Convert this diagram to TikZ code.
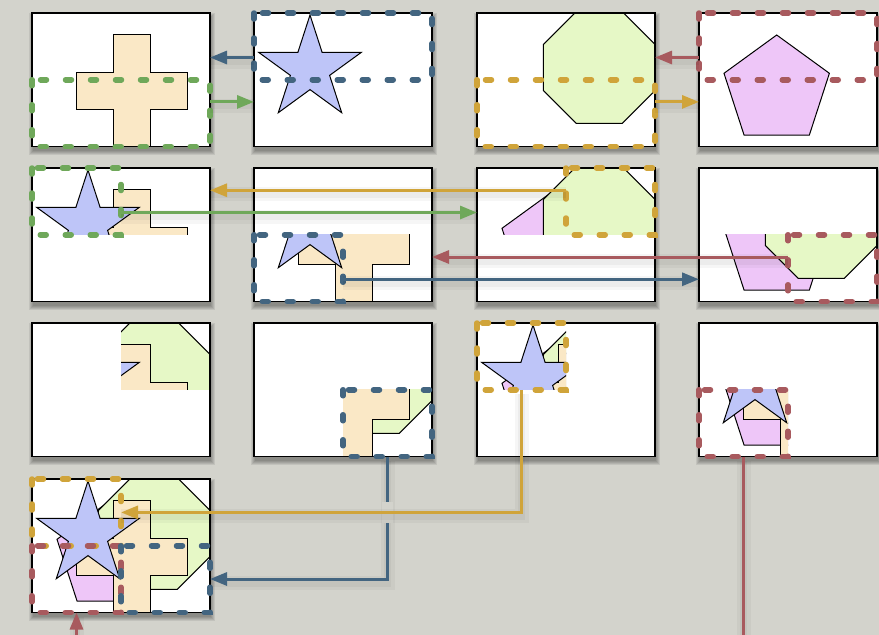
\documentclass[tikz,border=0pt]{standalone}
\usetikzlibrary{arrows.meta,calc}
\definecolor{bg}{RGB}{211,211,204}
\definecolor{crossc}{RGB}{250,232,198}
\definecolor{starc}{RGB}{190,197,248}
\definecolor{octc}{RGB}{230,248,198}
\definecolor{pentc}{RGB}{238,198,248}
\definecolor{cgreen}{RGB}{111,168,90}
\definecolor{cblue}{RGB}{67,101,128}
\definecolor{cyellow}{RGB}{208,164,58}
\definecolor{cred}{RGB}{168,90,94}
\tikzset{
  panel/.style={fill=white, minimum width=178pt, minimum height=133.5pt, inner sep=0pt, outer sep=0pt, anchor=north west},
  pborder/.style={draw=black, line width=1.3pt},
  shapeline/.style={draw=black, line width=1pt, line join=miter},
  dsh/.style={line width=5.5pt, line cap=round, dash pattern=on 6pt off 19pt},
  conn/.style={line width=3pt, -{Triangle[length=17pt,width=13pt]},
    preaction={draw=black, opacity=0.035, line width=14pt, -, transform canvas={yshift=-4pt}},
    preaction={draw=black, opacity=0.04, line width=7pt, -, transform canvas={yshift=-4pt}}},
}
\newcommand\shPent{\filldraw[fill=pentc,shapeline] (77.7,22) -- (130.4,60.3) -- (110.3,122.2) -- (45.1,122.2) -- (25,60.3) -- cycle;}
\newcommand\shOct{\filldraw[fill=octc,shapeline] (99.1,-1.3) -- (145.3,-1.3) -- (178,31.4) -- (178,77.6) -- (145.3,110.3) -- (99.1,110.3) -- (66.4,77.6) -- (66.4,31.4) -- cycle;}
\newcommand\shCross{\filldraw[fill=crossc,shapeline] (81.3,21.6) -- (118.7,21.6) -- (118.7,59) -- (155.7,59) -- (155.7,96.3) -- (118.7,96.3) -- (118.7,134) -- (81.3,134) -- (81.3,96.3) -- (44,96.3) -- (44,59) -- (81.3,59) -- cycle;}
\newcommand\shStar{\filldraw[fill=starc,shapeline] (56,2) -- (43.9,39.3) -- (4.6,39.3) -- (36.4,62.4) -- (24.3,99.7) -- (56,76.6) -- (87.7,99.7) -- (75.6,62.4) -- (107.4,39.3) -- (68.1,39.3) -- cycle;}
\newcommand\allSh{\shPent\shOct\shCross\shStar}
\begin{document}
\begin{tikzpicture}[x=1pt,y=-1pt]
\useasboundingbox (0,0) rectangle (879,635);
\clip (0,0) rectangle (879,635);
\fill[bg] (0,0) rectangle (879,635);
% panels with shadows
\foreach \n/\x/\y in {p11/32/13, p12/254/13, p13/477/13, p14/699/13,
                      p21/32/168, p22/254/168, p23/477/168, p24/699/168,
                      p31/32/323, p32/254/323, p33/477/323, p34/699/323,
                      p41/32/479}{
  \foreach \s in {0,1,2,3,4}{
    \fill[black,opacity=0.08] (\x-\s+1,\y-\s+4) rectangle (\x+178+\s+1,\y+133.5+\s+4);
  }
  \node[panel] (\n) at (\x,\y) {};
}
% contents
\begin{scope}[shift={(32,13)}]\clip (0,0) rectangle (178,133.5); \shCross \end{scope}
\begin{scope}[shift={(254,13)}]\clip (0,0) rectangle (178,133.5); \shStar \end{scope}
\begin{scope}[shift={(477,13)}]\clip (0,0) rectangle (178,133.5); \shOct \end{scope}
\begin{scope}[shift={(699,13)}]\clip (0,0) rectangle (178,133.5); \shPent \end{scope}
\begin{scope}[shift={(32,168)}]\clip (0,0) rectangle (178,66.75); \shCross\shStar \end{scope}
\begin{scope}[shift={(254,168)}]\clip (0,66.75) rectangle (178,133.5); \shCross\shStar \end{scope}
\begin{scope}[shift={(477,168)}]\clip (0,0) rectangle (178,66.75); \shPent\shOct \end{scope}
\begin{scope}[shift={(699,168)}]\clip (0,66.75) rectangle (178,133.5); \shPent\shOct \end{scope}
\begin{scope}[shift={(32,323)}]\clip (89,0) rectangle (178,66.75); \allSh \end{scope}
\begin{scope}[shift={(254,323)}]\clip (89,66.75) rectangle (178,133.5); \allSh \end{scope}
\begin{scope}[shift={(477,323)}]\clip (0,0) rectangle (89,66.75); \allSh \end{scope}
\begin{scope}[shift={(699,323)}]\clip (0,66.75) rectangle (89,133.5); \allSh \end{scope}
\begin{scope}[shift={(32,479)}]\clip (0,0) rectangle (178,133.5); \allSh \end{scope}
% borders
\foreach \n in {p11,p12,p13,p14,p21,p22,p23,p24,p31,p32,p33,p34,p41}{
  \draw[pborder] (\n.north west) rectangle (\n.south east);
}
% dashed regions
\draw[dsh,cgreen] ($(p11.north west)+(0,66.75)$) rectangle (p11.south east);
\draw[dsh,cblue] (p12.north west) rectangle ($(p12.north east)+(0,66.75)$);
\draw[dsh,cyellow] ($(p13.north west)+(0,66.75)$) rectangle (p13.south east);
\draw[dsh,cred] (p14.north west) rectangle ($(p14.north east)+(0,66.75)$);
\draw[dsh,cgreen] (p21.north west) rectangle ($(p21.north west)+(89,66.75)$);
\draw[dsh,cblue] ($(p22.north west)+(0,66.75)$) rectangle ($(p22.south west)+(89,0)$);
\draw[dsh,cyellow] ($(p23.north west)+(89,0)$) rectangle ($(p23.north east)+(0,66.75)$);
\draw[dsh,cred] ($(p24.north west)+(89,66.75)$) rectangle (p24.south east);
\draw[dsh,cblue] ($(p32.north west)+(89,66.75)$) rectangle (p32.south east);
\draw[dsh,cyellow] (p33.north west) rectangle ($(p33.north west)+(89,66.75)$);
\draw[dsh,cred] ($(p34.north west)+(0,66.75)$) rectangle ($(p34.south west)+(89,0)$);
\draw[dsh,cyellow] (p41.north west) rectangle ($(p41.north west)+(89,66.75)$);
\draw[dsh,cred] ($(p41.north west)+(0,66.75)$) rectangle ($(p41.south west)+(89,0)$);
\draw[dsh,cblue] ($(p41.north west)+(89,66.75)$) rectangle (p41.south east);
% connectors row 1
\draw[conn,cgreen] ($(p11.north east)+(0,88.9)$) -- ($(p12.north west)+(0,88.9)$);
\draw[conn,cblue] ($(p12.north west)+(0,44.5)$) -- ($(p11.north east)+(0,44.5)$);
\draw[conn,cyellow] ($(p13.north east)+(0,88.9)$) -- ($(p14.north west)+(0,88.9)$);
\draw[conn,cred] ($(p14.north west)+(0,44.5)$) -- ($(p13.north east)+(0,44.5)$);
% connectors row 2
\draw[conn,cyellow] ($(p23.north west)+(89,22.25)$) -- ($(p21.north east)+(0,22.25)$);
\draw[conn,cgreen] ($(p21.north west)+(89,44.5)$) -- ($(p23.north west)+(0,44.5)$);
\draw[conn,cred] ($(p24.north west)+(89,89)$) -- ($(p22.north east)+(0,89)$);
\draw[conn,cblue] ($(p22.north west)+(89,111.25)$) -- ($(p24.north west)+(0,111.25)$);
% connectors row 3 to final
\draw[conn,cblue] ($(p32.south west)+(133.5,0)$) |- ($(p41.north east)+(0,100)$);
\fill[bg] (382,502) rectangle (393,523);
\draw[conn,cyellow] ($(p33.north west)+(44.5,66.75)$) |- ($(p41.north west)+(89,33.4)$);
\coordinate (redturn) at (400,665);
\draw[conn,cred] ($(p34.south west)+(44.5,0)$) |- (redturn) -| ($(p41.south west)+(44.5,0)$);
\end{tikzpicture}
\end{document}
